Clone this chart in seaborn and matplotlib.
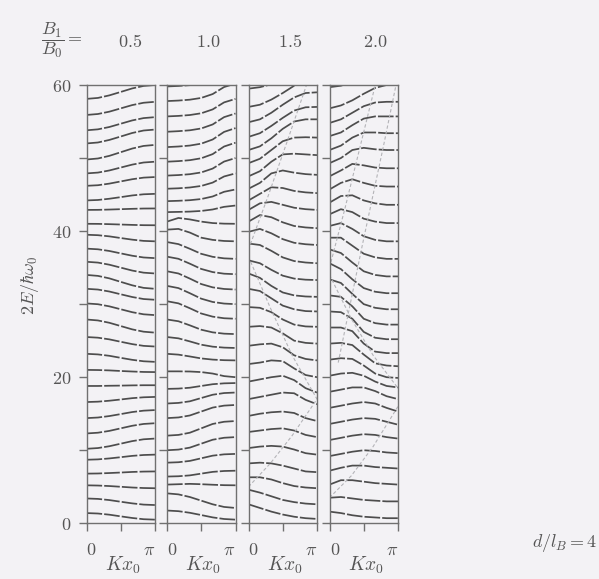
import numpy as np
import pandas as pd
import matplotlib
matplotlib.use("Agg")
import matplotlib.pyplot as plt
import seaborn as sns

sns.set_theme(style="white")
plt.rcParams["mathtext.fontset"] = "cm"
plt.rcParams["font.family"] = ["DejaVu Serif"]

# Field-modulation ratios shown above the four panels
ratios = ["0.5", "1.0", "1.5", "2.0"]

# Bloch wave number grid Kx0 on [0, pi]
k_grid = [0.0, np.pi / 6, np.pi / 3, np.pi / 2, 2 * np.pi / 3, 5 * np.pi / 6, np.pi]

# Band energies 2E/(hbar w0) on k_grid, one row per band
bands_05 = [
    [1.4, 1.34, 1.18, 0.95, 0.73, 0.56, 0.5],
    [3.4, 3.34, 3.18, 2.95, 2.73, 2.56, 2.5],
    [5.2, 5.17, 5.1, 5.0, 4.9, 4.83, 4.8],
    [6.8, 6.82, 6.88, 6.95, 7.03, 7.08, 7.1],
    [8.7, 8.75, 8.88, 9.05, 9.23, 9.35, 9.4],
    [10.2, 10.3, 10.55, 10.9, 11.25, 11.5, 11.6],
    [12.3, 12.4, 12.65, 13.0, 13.35, 13.6, 13.7],
    [14.4, 14.48, 14.68, 14.95, 15.23, 15.42, 15.5],
    [16.6, 16.65, 16.78, 16.95, 17.13, 17.25, 17.3],
    [18.8, 18.8, 18.83, 18.85, 18.88, 18.9, 18.9],
    [21.0, 20.98, 20.93, 20.85, 20.78, 20.72, 20.7],
    [23.2, 23.12, 22.93, 22.65, 22.38, 22.18, 22.1],
    [25.5, 25.41, 25.18, 24.85, 24.53, 24.29, 24.2],
    [27.9, 27.77, 27.45, 27.0, 26.55, 26.23, 26.1],
    [30.1, 29.99, 29.7, 29.3, 28.9, 28.61, 28.5],
    [32.1, 32.0, 31.73, 31.35, 30.98, 30.7, 30.6],
    [34.0, 33.87, 33.53, 33.05, 32.58, 32.23, 32.1],
    [35.8, 35.69, 35.4, 35.0, 34.6, 34.31, 34.2],
    [37.6, 37.51, 37.28, 36.95, 36.63, 36.39, 36.3],
    [39.5, 39.44, 39.28, 39.05, 38.83, 38.66, 38.6],
    [41.0, 40.99, 40.95, 40.9, 40.85, 40.81, 40.8],
    [42.9, 42.91, 42.95, 43.0, 43.05, 43.09, 43.1],
    [44.2, 44.26, 44.43, 44.65, 44.88, 45.04, 45.1],
    [46.2, 46.28, 46.5, 46.8, 47.1, 47.32, 47.4],
    [47.9, 48.01, 48.3, 48.7, 49.1, 49.39, 49.5],
    [49.8, 49.94, 50.3, 50.8, 51.3, 51.66, 51.8],
    [52.0, 52.13, 52.48, 52.95, 53.43, 53.77, 53.9],
    [53.8, 53.93, 54.25, 54.7, 55.15, 55.47, 55.6],
    [55.9, 56.03, 56.35, 56.8, 57.25, 57.57, 57.7],
    [58.1, 58.23, 58.58, 59.05, 59.53, 59.87, 60.0],
]

bands_10 = [
    [1.75, 1.66, 1.44, 1.13, 0.81, 0.59, 0.5],
    [4.1, 3.96, 3.6, 3.1, 2.6, 2.24, 2.1],
    [5.3, 5.35, 5.4, 5.35, 5.28, 5.22, 5.2],
    [6.4, 6.44, 6.56, 6.8, 7.04, 7.16, 7.2],
    [8.3, 8.36, 8.54, 8.9, 9.26, 9.44, 9.5],
    [10.0, 10.09, 10.36, 10.9, 11.44, 11.71, 11.8],
    [12.0, 12.1, 12.4, 13.0, 13.6, 13.9, 14.0],
    [14.4, 14.49, 14.76, 15.3, 15.84, 16.11, 16.2],
    [16.4, 16.48, 16.7, 17.15, 17.6, 17.83, 17.9],
    [18.4, 18.44, 18.56, 18.8, 19.04, 19.16, 19.2],
    [20.8, 20.8, 20.78, 20.7, 20.5, 20.15, 20.0],
    [23.2, 23.09, 22.84, 22.57, 22.41, 22.33, 22.3],
    [25.5, 25.32, 24.9, 24.45, 24.18, 24.05, 24.0],
    [27.9, 27.66, 27.1, 26.5, 26.14, 25.96, 25.9],
    [30.4, 30.11, 29.44, 28.72, 28.29, 28.07, 28.0],
    [32.5, 32.2, 31.5, 30.75, 30.3, 30.08, 30.0],
    [34.5, 34.2, 33.5, 32.75, 32.3, 32.08, 32.0],
    [36.5, 36.21, 35.54, 34.82, 34.39, 34.17, 34.1],
    [38.5, 38.22, 37.58, 36.89, 36.48, 36.27, 36.2],
    [40.2, 40.3, 39.8, 39.1, 38.8, 38.65, 38.6],
    [41.3, 41.8, 41.6, 41.3, 41.1, 41.02, 41.0],
    [42.6, 42.63, 42.67, 42.76, 42.96, 43.32, 43.5],
    [44.1, 44.15, 44.23, 44.39, 44.74, 45.38, 45.7],
    [45.8, 45.86, 45.97, 46.18, 46.64, 47.48, 47.9],
    [47.6, 47.67, 47.79, 48.03, 48.56, 49.52, 50.0],
    [49.5, 49.58, 49.71, 49.97, 50.54, 51.58, 52.1],
    [51.5, 51.58, 51.71, 51.97, 52.54, 53.58, 54.1],
    [53.6, 53.68, 53.8, 54.05, 54.6, 55.6, 56.1],
    [55.7, 55.77, 55.89, 56.13, 56.66, 57.62, 58.1],
    [57.8, 57.87, 57.99, 58.23, 58.76, 59.72, 60.2],
    [59.8, 59.87, 59.98, 60.2, 60.7, 61.6, 62.0],
]

bands_15 = [
    [2.6, 2.1, 1.6, 1.2, 0.9, 0.7, 0.6],
    [4.6, 4.2, 3.7, 3.2, 2.9, 2.7, 2.6],
    [6.3, 6.3, 6.0, 5.5, 5.1, 4.9, 4.8],
    [8.2, 8.3, 8.2, 7.9, 7.5, 7.1, 7.0],
    [10.3, 10.5, 10.6, 10.5, 10.1, 9.6, 9.4],
    [12.5, 12.7, 12.9, 13.0, 12.7, 12.1, 11.8],
    [14.7, 15.0, 15.2, 15.3, 15.1, 14.4, 14.0],
    [17.0, 17.3, 17.6, 17.9, 17.8, 16.9, 16.3],
    [19.4, 19.7, 20.0, 20.2, 19.6, 18.5, 17.9],
    [21.8, 22.0, 22.3, 22.2, 21.2, 20.3, 20.0],
    [24.3, 24.5, 24.6, 24.1, 23.0, 22.5, 22.3],
    [26.9, 27.0, 26.8, 26.0, 25.0, 24.7, 24.6],
    [29.6, 29.5, 28.9, 27.9, 27.2, 26.95, 26.9],
    [32.1, 31.8, 30.8, 29.8, 29.3, 29.05, 29.0],
    [34.2, 33.6, 32.5, 31.6, 31.2, 31.05, 31.0],
    [36.0, 35.6, 34.7, 33.9, 33.5, 33.35, 33.3],
    [38.3, 38.1, 37.3, 36.4, 35.9, 35.7, 35.6],
    [39.9, 40.3, 39.7, 38.9, 38.4, 38.2, 38.1],
    [41.3, 42.2, 41.9, 41.2, 40.7, 40.5, 40.4],
    [42.9, 43.8, 44.0, 43.6, 43.2, 43.0, 42.9],
    [44.2, 45.1, 46.0, 45.9, 45.5, 45.3, 45.2],
    [45.8, 46.6, 47.9, 48.3, 48.0, 47.8, 47.7],
    [47.5, 48.2, 49.5, 50.5, 50.6, 50.5, 50.4],
    [49.3, 49.9, 51.1, 52.3, 52.8, 52.85, 52.8],
    [51.1, 51.6, 52.7, 54.0, 55.0, 55.3, 55.3],
    [52.9, 53.4, 54.4, 55.5, 56.5, 56.95, 57.0],
    [54.9, 55.3, 56.2, 57.3, 58.3, 58.9, 59.0],
    [57.0, 57.3, 58.0, 58.9, 59.9, 60.8, 61.2],
    [59.5, 59.7, 60.1, 60.8, 61.5, 62.0, 62.2],
]

bands_20 = [
    [1.6, 1.4, 1.1, 0.9, 0.8, 0.7, 0.7],
    [3.5, 3.6, 3.4, 3.2, 3.1, 3.0, 3.0],
    [5.3, 5.9, 5.9, 5.7, 5.5, 5.4, 5.3],
    [7.2, 7.6, 7.9, 7.9, 7.7, 7.6, 7.5],
    [9.2, 9.5, 9.8, 10.0, 9.9, 9.7, 9.6],
    [11.4, 11.7, 12.0, 12.2, 12.1, 11.8, 11.6],
    [13.6, 13.9, 14.2, 14.4, 14.3, 13.9, 13.5],
    [15.8, 16.1, 16.4, 16.6, 16.4, 15.8, 15.3],
    [18.0, 18.3, 18.6, 18.6, 18.1, 17.4, 17.0],
    [20.2, 20.5, 20.6, 20.2, 19.4, 18.8, 18.6],
    [22.4, 22.6, 22.5, 21.6, 20.5, 20.0, 19.9],
    [24.6, 24.7, 24.4, 23.1, 21.9, 21.6, 21.5],
    [26.8, 26.8, 26.3, 24.6, 23.5, 23.3, 23.3],
    [29.0, 28.9, 28.0, 26.2, 25.4, 25.2, 25.2],
    [31.2, 31.0, 29.7, 28.0, 27.4, 27.2, 27.2],
    [33.4, 32.9, 31.4, 30.0, 29.5, 29.3, 29.3],
    [35.6, 34.8, 33.4, 32.2, 31.7, 31.5, 31.5],
    [37.5, 37.0, 35.7, 34.5, 34.0, 33.8, 33.8],
    [39.1, 39.1, 38.0, 36.9, 36.4, 36.2, 36.2],
    [40.7, 41.1, 40.3, 39.3, 38.8, 38.6, 38.6],
    [42.3, 43.0, 42.6, 41.7, 41.3, 41.1, 41.1],
    [43.9, 44.8, 44.9, 44.2, 43.8, 43.6, 43.6],
    [45.7, 46.6, 47.1, 46.6, 46.2, 46.1, 46.1],
    [47.5, 48.3, 49.2, 49.0, 48.7, 48.6, 48.6],
    [49.3, 50.0, 51.1, 51.4, 51.2, 51.1, 51.1],
    [51.1, 51.7, 52.8, 53.5, 53.5, 53.4, 53.4],
    [53.0, 53.5, 54.5, 55.4, 55.7, 55.7, 55.7],
    [54.8, 55.3, 56.2, 57.1, 57.6, 57.7, 57.7],
    [56.8, 57.2, 57.9, 58.8, 59.6, 60.0, 60.0],
    [59.7, 59.9, 60.4, 61.0, 61.6, 62.0, 62.2],
]

# Classical orbit boundaries (faint curves): (Kx0 list, energy list)
guides_15 = [
    ([0.0, 0.9, 1.8, 2.66], [37.5, 44.8, 52.5, 60.0]),
    ([0.0, 1.0, 2.0, np.pi], [36.5, 29.5, 23.0, 17.0]),
    ([0.0, 1.0, 2.0, np.pi], [5.0, 8.2, 12.0, 17.0]),
]
guides_20 = [
    ([0.0, 0.7, 1.4, 2.1], [35.0, 43.0, 51.5, 60.0]),
    ([0.4, 1.5, 2.5, 3.05], [22.0, 38.0, 52.0, 60.0]),
    ([0.0, 1.0, 2.0, np.pi], [34.0, 28.0, 23.0, 18.5]),
    ([0.0, 1.0, 2.0, np.pi], [3.5, 6.5, 10.5, 16.0]),
]

panel_bands = [bands_05, bands_10, bands_15, bands_20]
panel_guides = [[], [], guides_15, guides_20]

W, H = 599, 579
fig = plt.figure(figsize=(W / 100, H / 100), dpi=100)
bg = "#f3f2f5"
fig.patch.set_facecolor(bg)

ink = "#4d4d4d"
frame = "#707070"
txt = "#555555"
lefts = [86.5, 167.0, 248.5, 329.5]
ratio_x = [130, 208, 290, 375]
pw = 68.5
top_px, bot_px = 85.0, 523.3


def px_text(x, y, s, **kw):
    fig.text(x / W, 1 - y / H, s, **kw)


for i, (bands, guides) in enumerate(zip(panel_bands, panel_guides)):
    ax = fig.add_axes([lefts[i] / W, 1 - bot_px / H, pw / W, (bot_px - top_px) / H])
    ax.set_facecolor(bg)
    rows = []
    for b, vals in enumerate(bands):
        for k, e in zip(k_grid, vals):
            rows.append({"K": k, "E": e, "band": b})
    df = pd.DataFrame(rows)
    sns.lineplot(data=df, x="K", y="E", units="band", estimator=None,
                 color=ink, lw=1.25, sort=False, ax=ax,
                 linestyle=(0, (9, 1.2)), legend=False)
    for g, (gk, ge) in enumerate(guides):
        gdf = pd.DataFrame({"K": gk, "E": ge})
        sns.lineplot(data=gdf, x="K", y="E", estimator=None, sort=False,
                     color="#b4b4b8", lw=0.8, linestyle=(0, (3, 2)), ax=ax)
    ax.set_xlim(0, np.pi)
    ax.set_ylim(0, 60)
    for sp in ax.spines.values():
        sp.set_visible(True)
        sp.set_color(frame)
        sp.set_linewidth(1.0)
    ax.set_xticks([0, np.pi / 2, np.pi])
    ax.set_xticklabels([r"$0$", "", r"$\pi$"], fontsize=13)
    xl = ax.get_xticklabels()
    xl[0].set_ha("left")
    xl[2].set_ha("right")
    ax.set_yticks(np.arange(0, 61, 10))
    if i == 0:
        ax.set_yticklabels([r"$0$", "", r"$20$", "", r"$40$", "", r"$60$"], fontsize=13)
    else:
        ax.set_yticklabels([])
    ax.tick_params(axis="both", direction="out", length=6, width=1.0,
                   color=frame, labelcolor=txt, pad=5,
                   bottom=True, left=True)
    ax.tick_params(axis="x", pad=7)
    ax.set_xlabel("")
    ax.set_ylabel("")
    px_text(lefts[i] + pw / 2 + 2, 565, r"$Kx_0$", fontsize=14, color=txt,
            ha="center", va="center")
    px_text(ratio_x[i], 42, r"$%s$" % ratios[i], fontsize=13,
            color=txt, ha="center", va="center")

px_text(62, 40, r"$\dfrac{B_1}{B_0}=$", fontsize=13, color=txt,
        ha="center", va="center")
px_text(30, 285, r"$2E/\hbar\omega_0$", fontsize=13, color=txt,
        ha="center", va="center", rotation=90)
px_text(597, 543, r"$d/l_B=4$", fontsize=13, color=txt,
        ha="right", va="center")

fig.savefig("out.png", dpi=100, facecolor=bg)
